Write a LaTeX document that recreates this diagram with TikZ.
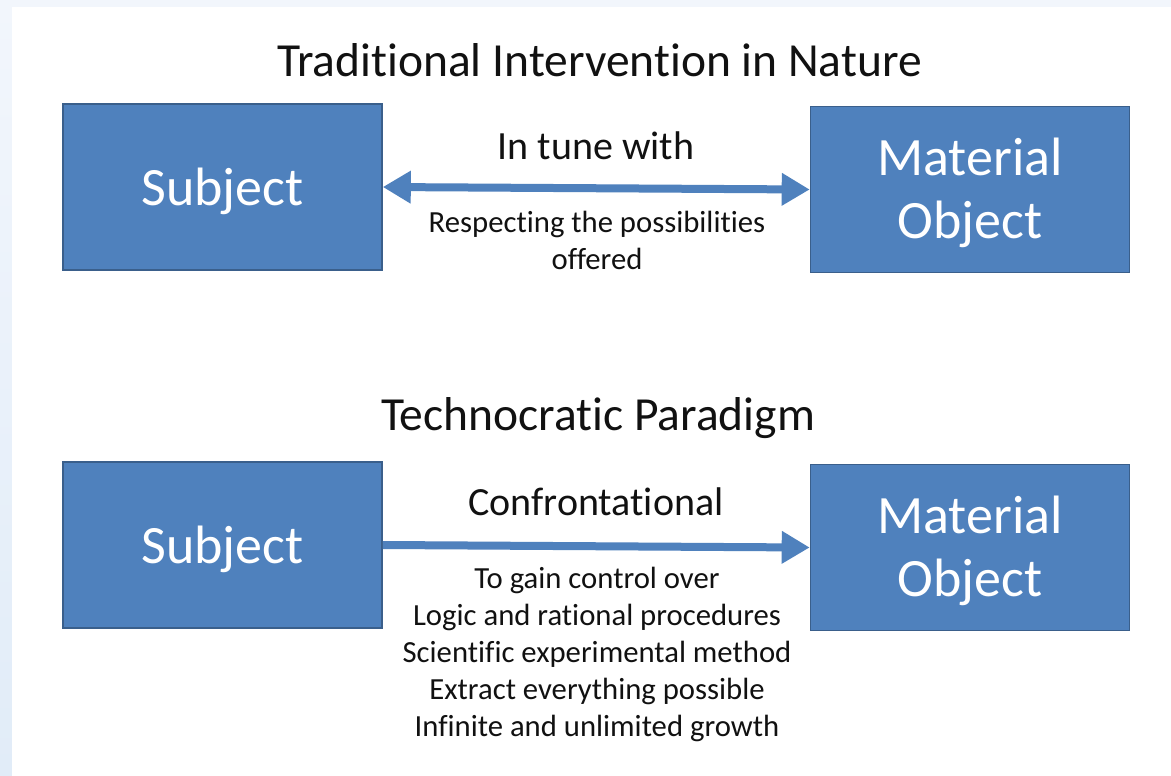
\documentclass[tikz,border=0pt]{standalone}
\usepackage{fontspec}
\setmainfont[Ligatures=NoCommon]{Carlito}
\usetikzlibrary{arrows.meta}

\definecolor{boxfill}{HTML}{4F81BD}
\definecolor{boxedge}{HTML}{3A5F8B}
\definecolor{pagetint}{HTML}{F2F6FC}
\definecolor{pagetintlow}{HTML}{E1ECF8}
\definecolor{textdark}{HTML}{111111}

\tikzset{
  bluebox/.style={draw=boxedge, line width=1.6pt, fill=boxfill, text=white,
    minimum width=319pt, minimum height=166pt, inner sep=0pt, align=center,
    font=\fontsize{54}{63}\selectfont},
  % vertical placement of the box captions (baseline of the last line)
  oneline/.style={bluebox, text height=36pt, text depth=0pt},
  twoline/.style={bluebox, text height=97pt, text depth=0pt},
  heading/.style={text=textdark, inner sep=0pt, font=\fontsize{47.5}{56}\selectfont},
  relation/.style={text=textdark, inner sep=0pt, font=\fontsize{40}{48}\selectfont},
  detail/.style={text=textdark, inner sep=0pt, align=center,
    font=\fontsize{30.7}{37}\selectfont},
  link/.style={draw=boxfill, line width=8pt},
  bigtip/.tip={Triangle[length=28pt, width=31pt]}
}

\begin{document}
\begin{tikzpicture}[x=1pt, y=-1pt]
  % page frame with a pale tinted margin at the top and left
  \useasboundingbox (0,0) rectangle (1171,776);
  \fill[pagetint] (0,0) rectangle (1171,776);
  \shade[top color=pagetint, bottom color=pagetintlow] (0,0) rectangle (12,776);
  \fill[white] (12,7) rectangle (1171,776);

  % upper diagram: traditional intervention
  \node[heading] (title1) at (599.5,60) {Traditional Intervention in Nature};
  \node[oneline] (subj1) at (222.5,187) {Subject};
  \node[twoline] (obj1) at (970,189.5) {Material\\Object};
  \node[relation] (rel1) at (596,146) {In tune with};
  \node[detail] (det1) at (597,240) {Respecting the possibilities\\offered};
  \draw[link, bigtip-bigtip] (subj1.east) -- (obj1.west);

  % lower diagram: technocratic paradigm
  \node[heading] (title2) at (598,418) {Technocratic Paradigm};
  \node[oneline] (subj2) at (222.5,545) {Subject};
  \node[twoline] (obj2) at (970,547.5) {Material\\Object};
  \node[relation] (rel2) at (596,502) {Confrontational};
  \node[detail] (det2) at (597,654) {To gain control over\\Logic and rational procedures\\Scientific experimental method\\Extract everything possible\\Infinite and unlimited growth};
  \draw[link, -bigtip] (subj2.east) -- (obj2.west);
\end{tikzpicture}
\end{document}
